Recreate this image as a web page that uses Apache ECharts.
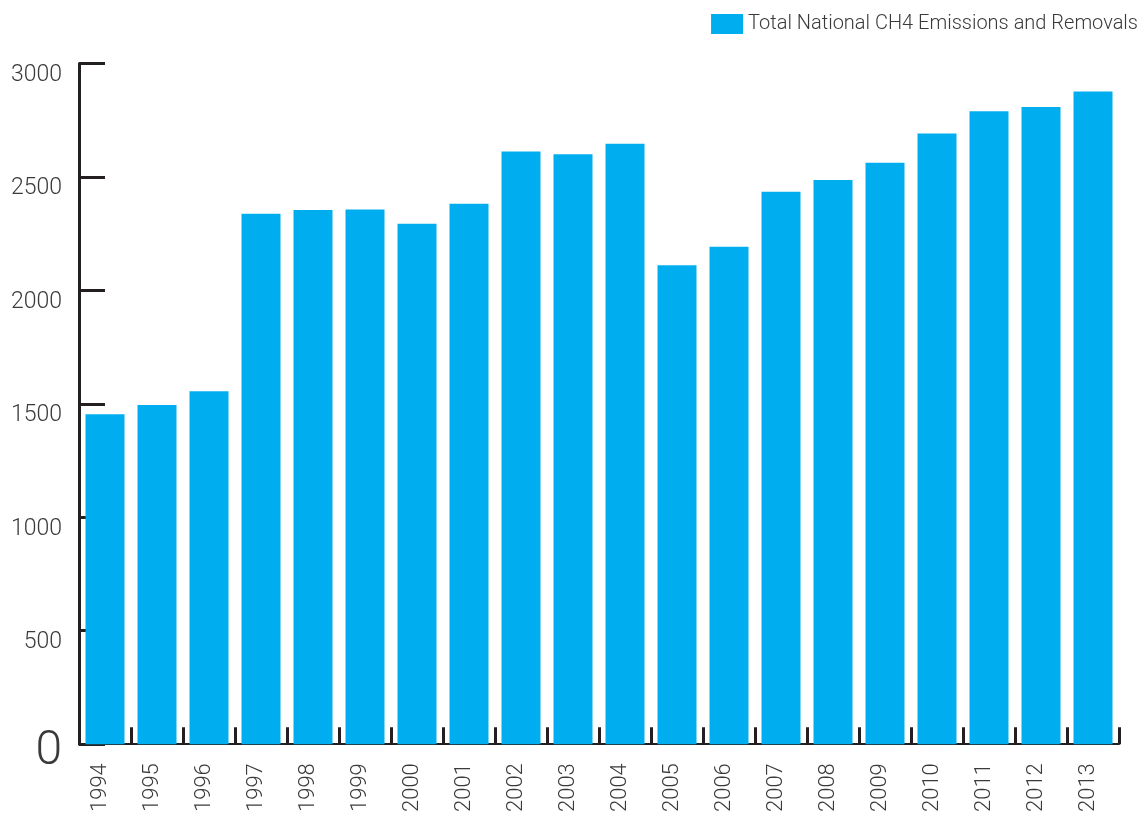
<!DOCTYPE html>
<html>
<head>
<meta charset="utf-8">
<script src="https://cdn.jsdelivr.net/npm/echarts@6/dist/echarts.min.js"></script>
<style>
html,body{margin:0;padding:0;background:#fff;}
#chart{width:1143px;height:815px;}
</style>
</head>
<body>
<div id="chart"></div>
<script>
var categories = ['1994','1995','1996','1997','1998','1999','2000','2001','2002','2003','2004','2005','2006','2007','2008','2009','2010','2011','2012','2013'];
var seriesName = 'Total National CH4 Emissions and Removals';
var values = [1454,1495,1555,2338,2354,2356,2294,2382,2612,2600,2646,2111,2192,2435,2486,2563,2691,2790,2808,2877];
var yTicks = [0,500,1000,1500,2000,2500,3000];

var chart = echarts.init(document.getElementById('chart'));
var font = 'Roboto, Liberation Sans, Arial, sans-serif';
var txt = '#3a3a3a';
var yMin = yTicks[0], yMax = yTicks[yTicks.length - 1], yStep = yTicks[1] - yTicks[0];
chart.setOption({
  animation: false,
  backgroundColor: '#ffffff',
  legend: {
    data: [seriesName],
    right: 5,
    top: 14,
    padding: 0,
    itemWidth: 32,
    itemHeight: 20,
    itemGap: 7,
    icon: 'rect',
    textStyle: { fontFamily: font, fontWeight: 300, fontSize: 20, color: txt }
  },
  grid: { left: 79, right: 24, top: 63.5, bottom: 67.5, containLabel: false },
  xAxis: {
    type: 'category',
    data: categories,
    boundaryGap: true,
    axisLine: { lineStyle: { color: '#231f20', width: 2 } },
    axisTick: { show: true, inside: true, length: 17, lineStyle: { color: '#231f20', width: 3 } },
    axisLabel: {
      rotate: 90, margin: 19, color: txt,
      formatter: function (v) { return '{a|' + v + '}'; },
      rich: { a: { fontFamily: font, fontWeight: 300, fontSize: 22, color: txt, padding: [0, 0, 10, 0] } }
    }
  },
  yAxis: [{
    type: 'value',
    min: yMin, max: yMax, interval: yStep,
    splitLine: { show: false },
    axisLine: { show: true, lineStyle: { color: '#231f20', width: 3 } },
    axisTick: { show: true, inside: true, length: 26, lineStyle: { color: '#231f20', width: 3 } },
    axisLabel: {
      margin: 17, fontFamily: font, fontWeight: 300, fontSize: 23, color: txt,
      verticalAlign: 'top',
      formatter: function (v) { return v === 0 ? '' : String(v); }
    }
  }, {
    type: 'value',
    position: 'left',
    min: yMin, max: yMax, interval: yStep,
    splitLine: { show: false },
    axisLine: { show: false },
    axisTick: { show: false },
    axisLabel: {
      margin: 17, fontFamily: font, fontWeight: 300, fontSize: 48, color: txt,
      verticalAlign: 'top', lineHeight: 16,
      formatter: function (v) { return v === 0 ? '0' : ''; }
    }
  }],
  series: [{
    name: seriesName,
    type: 'bar',
    data: values,
    barWidth: 39,
    yAxisIndex: 0,
    itemStyle: { color: '#00aeef' }
  }]
});
</script>
</body>
</html>
